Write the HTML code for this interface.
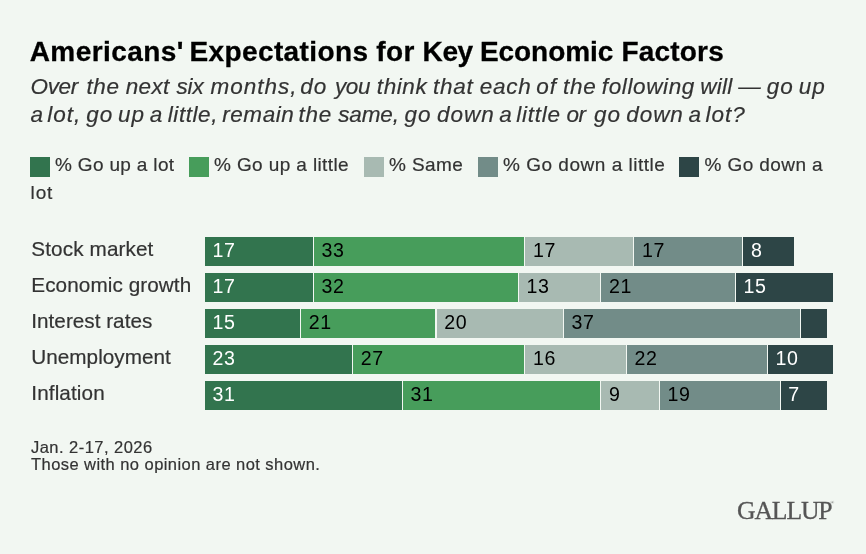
<!DOCTYPE html>
<html><head><meta charset="utf-8"><title>Americans' Expectations for Key Economic Factors</title>
<style>
html,body{margin:0;padding:0;background:#f2f7f2}
body{width:866px;height:554px;background:#f2f7f2;position:relative;overflow:hidden;font-family:"Liberation Sans",sans-serif;color:#333}
.abs{position:absolute;white-space:nowrap}
#title{font-family:"Liberation Sans",sans-serif;font-size:28px;font-weight:bold;color:#000;line-height:36px;-webkit-text-stroke:0.3px #000}
.sub{left:31px;font-size:22.5px;font-style:italic;color:#333;line-height:28px;-webkit-text-stroke:0.2px #333}
.lg{position:absolute;top:157px;width:20px;height:20px}
.lt{-webkit-text-stroke:0.2px #333;position:absolute;white-space:nowrap;font-size:19px;line-height:24px;color:#333;top:153px}
.rl{-webkit-text-stroke:0.2px #333;position:absolute;left:31.3px;font-size:20.7px;line-height:28px;color:#333;white-space:nowrap}
.sg{position:absolute;height:28.6px;line-height:27.6px;font-size:19.6px;letter-spacing:0.6px;box-sizing:border-box;padding-left:7.6px;white-space:nowrap;overflow:hidden}
.ft{-webkit-text-stroke:0.2px #333;position:absolute;left:31px;font-size:16.5px;line-height:18px;color:#333;white-space:nowrap}
#logo{position:absolute;left:737px;top:496px;-webkit-text-stroke:0.3px #555;font-family:"Liberation Serif",serif;font-size:25.7px;line-height:30px;color:#555;white-space:nowrap}
#reg{position:absolute;left:830.5px;top:500px;font-family:"Liberation Serif",serif;font-size:5px;line-height:6px;color:#555}
</style></head><body>
<div id="title" style="position:absolute;left:0;top:34px;width:866px;height:36px;white-space:nowrap"><span style="position:absolute;left:29.7px;top:0;letter-spacing:0.43px">Americans'</span> <span style="position:absolute;left:189.5px;top:0;letter-spacing:0.38px">Expectations</span> <span style="position:absolute;left:376.2px;top:0;letter-spacing:0.40px">for</span> <span style="position:absolute;left:422.6px;top:0;letter-spacing:-0.40px">Key</span> <span style="position:absolute;left:480.0px;top:0;letter-spacing:-0.08px">Economic</span> <span style="position:absolute;left:621.4px;top:0;letter-spacing:0.20px">Factors</span></div>
<div id="s1" class="sub" style="position:absolute;left:0;top:72.5px;width:866px;height:28px"><span style="position:absolute;left:30.6px;top:0;letter-spacing:-0.40px">Over</span> <span style="position:absolute;left:86.4px;top:0;letter-spacing:0.67px">the</span> <span style="position:absolute;left:125.7px;top:0;letter-spacing:0.37px">next</span> <span style="position:absolute;left:176.6px;top:0;letter-spacing:-0.22px">six</span> <span style="position:absolute;left:210.5px;top:0;letter-spacing:0.99px">months,</span> <span style="position:absolute;left:300.2px;top:0;letter-spacing:1.00px">do</span> <span style="position:absolute;left:335.0px;top:0;letter-spacing:-0.40px">you</span> <span style="position:absolute;left:376.8px;top:0;letter-spacing:0.58px">think</span> <span style="position:absolute;left:433.1px;top:0;letter-spacing:0.67px">that</span> <span style="position:absolute;left:479.7px;top:0;letter-spacing:0.73px">each</span> <span style="position:absolute;left:536.2px;top:0;letter-spacing:1.00px">of</span> <span style="position:absolute;left:563.1px;top:0;letter-spacing:0.72px">the</span> <span style="position:absolute;left:601.8px;top:0;letter-spacing:0.62px">following</span> <span style="position:absolute;left:700.3px;top:0;letter-spacing:0.23px">will</span> <span style="position:absolute;left:738.2px;top:0;letter-spacing:0.00px">—</span> <span style="position:absolute;left:766.8px;top:0;letter-spacing:1.00px">go</span> <span style="position:absolute;left:798.7px;top:0;letter-spacing:1.00px">up</span></div>
<div id="s2" class="sub" style="position:absolute;left:0;top:101px;width:866px;height:28px"><span style="position:absolute;left:30.5px;top:0;letter-spacing:0.00px">a</span> <span style="position:absolute;left:47.2px;top:0;letter-spacing:1.00px">lot,</span> <span style="position:absolute;left:86.2px;top:0;letter-spacing:1.00px">go</span> <span style="position:absolute;left:117.9px;top:0;letter-spacing:1.00px">up</span> <span style="position:absolute;left:149.7px;top:0;letter-spacing:0.00px">a</span> <span style="position:absolute;left:167.8px;top:0;letter-spacing:0.56px">little,</span> <span style="position:absolute;left:222.2px;top:0;letter-spacing:0.57px">remain</span> <span style="position:absolute;left:298.6px;top:0;letter-spacing:0.72px">the</span> <span style="position:absolute;left:338.2px;top:0;letter-spacing:-0.12px">same,</span> <span style="position:absolute;left:404.4px;top:0;letter-spacing:1.00px">go</span> <span style="position:absolute;left:436.9px;top:0;letter-spacing:1.00px">down</span> <span style="position:absolute;left:499.2px;top:0;letter-spacing:0.00px">a</span> <span style="position:absolute;left:516.3px;top:0;letter-spacing:0.76px">little</span> <span style="position:absolute;left:566.5px;top:0;letter-spacing:-0.40px">or</span> <span style="position:absolute;left:594.1px;top:0;letter-spacing:1.00px">go</span> <span style="position:absolute;left:626.2px;top:0;letter-spacing:0.97px">down</span> <span style="position:absolute;left:688.4px;top:0;letter-spacing:0.00px">a</span> <span style="position:absolute;left:705.6px;top:0;letter-spacing:1.00px">lot?</span></div>
<div class="lg" style="left:30px;background:#32744e"></div><div id="l1" class="lt" style="left:55px;letter-spacing:0.329px;">% Go up a lot</div>
<div class="lg" style="left:189.3px;background:#479d5b"></div><div id="l2" class="lt" style="left:214px;letter-spacing:0.385px;">% Go up a little</div>
<div class="lg" style="left:364.3px;background:#a8bab2"></div><div id="l3" class="lt" style="left:389px;letter-spacing:0.398px;">% Same</div>
<div class="lg" style="left:478px;background:#728c88"></div><div id="l4" class="lt" style="left:503px;letter-spacing:0.514px;">% Go down a little</div>
<div class="lg" style="left:679px;background:#2d4546"></div><div id="l5" class="lt" style="left:704.5px;letter-spacing:0.411px;">% Go down a</div>
<div id="l6" class="lt" style="left:30.5px;top:181.4px;letter-spacing:0.907px;">lot</div>
<div class="rl" id="r0" style="top:234.7px;letter-spacing:0.123px;">Stock market</div>
<div class="sg" style="left:205.00px;top:237.3px;width:107.74px;background:#32744e;color:#fff">17</div>
<div class="sg" style="left:313.94px;top:237.3px;width:210.26px;background:#479d5b;color:#000">33</div>
<div class="sg" style="left:525.40px;top:237.3px;width:107.70px;background:#a8bab2;color:#000">17</div>
<div class="sg" style="left:634.30px;top:237.3px;width:107.80px;background:#728c88;color:#000">17</div>
<div class="sg" style="left:743.30px;top:237.3px;width:51.00px;background:#2d4546;color:#fff">8</div>
<div class="rl" id="r1" style="top:270.7px;letter-spacing:0.089px;">Economic growth</div>
<div class="sg" style="left:205.00px;top:273.3px;width:107.74px;background:#32744e;color:#fff">17</div>
<div class="sg" style="left:313.94px;top:273.3px;width:203.86px;background:#479d5b;color:#000">32</div>
<div class="sg" style="left:519.00px;top:273.3px;width:81.10px;background:#a8bab2;color:#000">13</div>
<div class="sg" style="left:601.30px;top:273.3px;width:133.40px;background:#728c88;color:#000">21</div>
<div class="sg" style="left:735.90px;top:273.3px;width:96.90px;background:#2d4546;color:#fff">15</div>
<div class="rl" id="r2" style="top:306.7px;letter-spacing:0.019px;">Interest rates</div>
<div class="sg" style="left:205.00px;top:309.3px;width:94.90px;background:#32744e;color:#fff">15</div>
<div class="sg" style="left:301.10px;top:309.3px;width:134.40px;background:#479d5b;color:#000">21</div>
<div class="sg" style="left:436.70px;top:309.3px;width:125.90px;background:#a8bab2;color:#000">20</div>
<div class="sg" style="left:563.80px;top:309.3px;width:235.90px;background:#728c88;color:#000">37</div>
<div class="sg" style="left:800.90px;top:309.3px;width:26.10px;background:#2d4546;color:#fff"></div>
<div class="rl" id="r3" style="top:342.7px;letter-spacing:0.030px;">Unemployment</div>
<div class="sg" style="left:205.00px;top:345.3px;width:146.90px;background:#32744e;color:#fff">23</div>
<div class="sg" style="left:353.10px;top:345.3px;width:171.10px;background:#479d5b;color:#000">27</div>
<div class="sg" style="left:525.40px;top:345.3px;width:100.20px;background:#a8bab2;color:#000">16</div>
<div class="sg" style="left:626.80px;top:345.3px;width:139.80px;background:#728c88;color:#000">22</div>
<div class="sg" style="left:767.80px;top:345.3px;width:65.00px;background:#2d4546;color:#fff">10</div>
<div class="rl" id="r4" style="top:378.7px;letter-spacing:0.115px;">Inflation</div>
<div class="sg" style="left:205.00px;top:381.3px;width:196.70px;background:#32744e;color:#fff">31</div>
<div class="sg" style="left:402.90px;top:381.3px;width:197.20px;background:#479d5b;color:#000">31</div>
<div class="sg" style="left:601.30px;top:381.3px;width:57.50px;background:#a8bab2;color:#000">9</div>
<div class="sg" style="left:660.00px;top:381.3px;width:119.50px;background:#728c88;color:#000">19</div>
<div class="sg" style="left:780.70px;top:381.3px;width:46.30px;background:#2d4546;color:#fff">7</div>
<div id="f1" class="ft" style="top:438px;letter-spacing:0.462px;">Jan. 2-17, 2026</div>
<div id="f2" class="ft" style="top:455.2px;letter-spacing:0.443px;">Those with no opinion are not shown.</div>
<div id="logo" style="letter-spacing:-1.138px;">GALLUP</div><div id="reg">®</div>
</body></html>
